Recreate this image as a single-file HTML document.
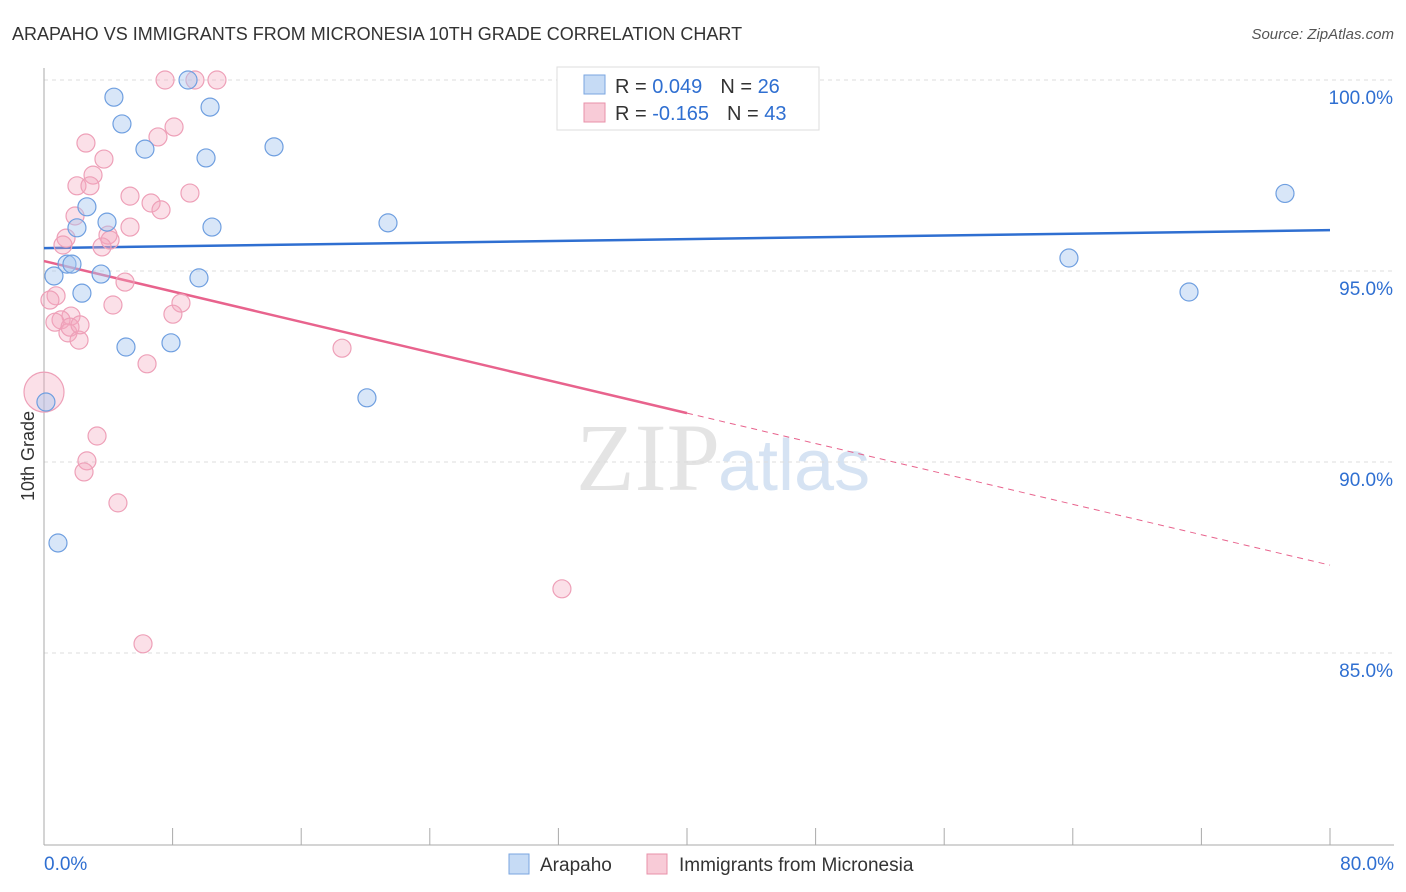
<!DOCTYPE html>
<html><head><meta charset="utf-8"><style>
body{margin:0;background:#fff;font-family:"Liberation Sans",sans-serif}
svg{display:block}
</style></head><body>
<svg width="1406" height="892">
<text x="12" y="40" font-size="18" fill="#333">ARAPAHO VS IMMIGRANTS FROM MICRONESIA 10TH GRADE CORRELATION CHART</text>
<text x="1394" y="39" font-size="15" fill="#555" font-style="italic" text-anchor="end">Source: ZipAtlas.com</text>
<text x="720" y="490" font-size="96" fill="#e4e4e4" text-anchor="end" font-family="Liberation Serif,serif">ZIP</text>
<text x="718" y="490" font-size="72" fill="#d6e3f3">atlas</text>
<g id="grid"></g><g id="axes"></g><g id="trend"></g><g id="pts"></g>
<text transform="translate(34,456) rotate(-90)" font-size="18" fill="#333" text-anchor="middle">10th Grade</text>
<g>
<rect x="557" y="67" width="262" height="63" fill="#fff" stroke="#ddd"/>
<rect x="584" y="75" width="21" height="19" fill="#c6dbf5" stroke="#7aa6e0"/>
<text x="615" y="93" font-size="20" fill="#333">R = <tspan fill="#2f6fd1">0.049</tspan><tspan dx="18">N = </tspan><tspan fill="#2f6fd1">26</tspan></text>
<rect x="584" y="103" width="21" height="19" fill="#f8cbd7" stroke="#e890aa"/>
<text x="615" y="120" font-size="20" fill="#333">R = <tspan fill="#2f6fd1">-0.165</tspan><tspan dx="18">N = </tspan><tspan fill="#2f6fd1">43</tspan></text>
</g>
<g>
<rect x="509" y="854" width="20" height="20" fill="#c6dbf5" stroke="#7aa6e0"/>
<text x="540" y="871" font-size="19" fill="#333">Arapaho</text>
<rect x="647" y="854" width="20" height="20" fill="#f8cbd7" stroke="#e890aa"/>
<text x="679" y="871" font-size="19" fill="#333">Immigrants from Micronesia</text>
</g>
</svg>
<script>
const blueX=[8.96,4.35,10.33,4.85,6.28,10.08,14.31,2.67,3.92,2.05,10.45,21.40,1.43,1.74,0.62,3.55,9.64,2.36,5.10,7.90,20.09,0.12,0.87,63.76,71.23,77.20];
const blueY=[100,99.55,99.29,98.85,98.19,97.96,98.25,96.68,96.28,96.13,96.15,96.26,95.18,95.18,94.87,94.92,94.82,94.42,93.01,93.12,91.68,91.57,87.88,95.34,94.45,97.03];
const pinkX=[7.53,9.39,10.76,2.61,8.09,7.09,3.73,3.05,2.05,2.86,9.08,5.35,6.66,7.28,1.93,5.35,1.37,3.98,4.11,1.18,3.61,5.04,0.75,0.37,4.29,8.52,8.02,1.68,1.06,0.68,1.49,1.62,2.18,6.41,18.54,0.0,3.30,2.67,2.49,4.60,32.22,6.16,2.24];
const pinkY=[100,100,100,98.35,98.77,98.51,97.93,97.51,97.23,97.23,97.04,96.96,96.78,96.60,96.44,96.15,95.86,95.94,95.81,95.68,95.63,94.71,94.35,94.24,94.11,94.16,93.87,93.82,93.72,93.66,93.38,93.53,93.19,92.57,92.98,91.83,90.68,90.03,89.74,88.93,86.68,85.24,93.59];
const yTicks=[100,95,90,85];
const yTickLabels=["100.0%","95.0%","90.0%","85.0%"];
const blueTrend=[95.60,96.07];
const pinkTrend=[95.26,87.30];
const pinkSolidEnd=40;
const NS="http://www.w3.org/2000/svg";
const X=v=>44+v*16.075, Y=v=>80+(100-v)*38.2;
function mk(p,t,a){const e=document.createElementNS(NS,t);for(const k in a)e.setAttribute(k,a[k]);document.getElementById(p).appendChild(e);return e;}
yTicks.forEach((t,i)=>{
 const g=mk('grid','line',{x1:44,x2:1394,y1:Y(t),y2:Y(t),stroke:'#ddd','stroke-dasharray':'4,4'});
 
 
 const l=mk('grid','text',{x:1393,y:Y(t)+24,'font-size':19,fill:'#2f6fd1','text-anchor':'end'});
 l.textContent=yTickLabels[i];
 
 
});
const ya=mk('axes','line',{x1:44,x2:44,y1:68,y2:845,stroke:'#aaa'});


const xa=mk('axes','line',{x1:44,x2:1394,y1:845,y2:845,stroke:'#aaa'});


for(let i=0;i<=10;i++){const t=mk('axes','line',{x1:X(i*8),x2:X(i*8),y1:828,y2:845,stroke:'#aaa'});
 
 }
const xl0=mk('axes','text',{x:44,y:870,'font-size':19,fill:'#2f6fd1'});xl0.textContent='0.0%';


const xl1=mk('axes','text',{x:1394,y:870,'font-size':19,fill:'#2f6fd1','text-anchor':'end'});xl1.textContent='80.0%';


const bt=mk('trend','line',{x1:X(0),y1:Y(blueTrend[0]),x2:X(80),y2:Y(blueTrend[1]),stroke:'#2f6fd1','stroke-width':2.5});


const pm=pinkTrend[0]+(pinkTrend[1]-pinkTrend[0])*pinkSolidEnd/80;
const pt=mk('trend','line',{x1:X(0),y1:Y(pinkTrend[0]),x2:X(pinkSolidEnd),y2:Y(pm),stroke:'#e8638d','stroke-width':2.5});


const pd=mk('trend','line',{x1:X(pinkSolidEnd),y1:Y(pm),x2:X(80),y2:Y(pinkTrend[1]),stroke:'#e8638d','stroke-width':1,'stroke-dasharray':'6,5'});


pinkX.forEach((x,i)=>{const c=mk('pts','circle',{cx:X(x),cy:Y(pinkY[i]),r:(i==35?20:9),fill:'rgba(244,166,190,0.35)',stroke:'#eea0b8','stroke-width':1.2});
 
 });
blueX.forEach((x,i)=>{const c=mk('pts','circle',{cx:X(x),cy:Y(blueY[i]),r:9,fill:'rgba(168,200,240,0.45)',stroke:'#6f9fe0','stroke-width':1.2});
 
 });
</script>
</body></html>
